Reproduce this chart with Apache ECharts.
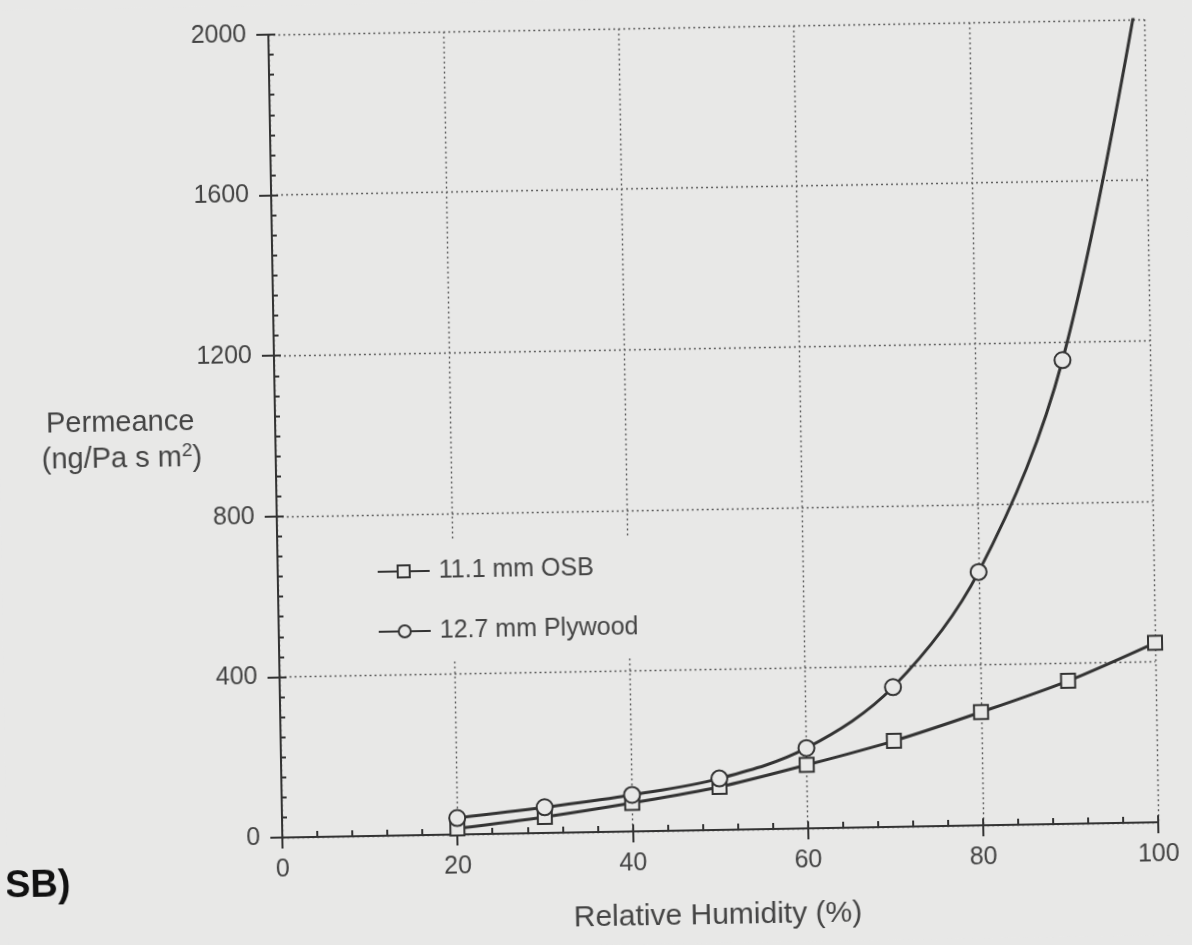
<!DOCTYPE html>
<html>
<head>
<meta charset="utf-8">
<script src="https://cdn.jsdelivr.net/npm/echarts@6/dist/echarts.min.js"></script>
<style>
  html, body { margin: 0; padding: 0; background: #e8e8e7; overflow: hidden; }
  #main { width: 1192px; height: 945px; transform: rotate(-1deg); }
</style>
</head>
<body>
<div id="main"></div>
<script>
// relative humidity (%) of each measurement
var humidity = [20, 30, 40, 50, 60, 70, 80, 90, 100];
// permeance, ng/Pa s m2
var osb = [15, 40, 71, 107, 158, 214, 282, 356, 447];
var plywood = [41, 64, 91, 128, 200, 348, 631, 1155, 2150];
var seriesNames = ['11.1 mm OSB', '12.7 mm Plywood'];
var xTicks = [0, 20, 40, 60, 80, 100];
var yTicks = [0, 400, 800, 1200, 1600, 2000];

var paper = '#e8e8e7';
var ink = '#333333';
var textInk = '#444444';
var dots = { type: [2, 3], color: '#5e5e5e', width: 1.4 };

function pairs(ys) {
    return humidity.map(function (h, i) { return [h, ys[i]]; });
}

var myChart = echarts.init(document.getElementById('main'));

var option = {
    backgroundColor: paper,
    animation: false,
    grid: { left: 276, top: 29, width: 876, height: 803, containLabel: false },
    legend: {
        orient: 'vertical',
        left: 365,
        top: 537,
        padding: [16, 14, 16, 10],
        backgroundColor: paper,
        itemWidth: 52,
        itemHeight: 15,
        itemGap: 30,
        data: seriesNames,
        textStyle: { fontFamily: 'Liberation Sans', fontSize: 25, color: textInk, lineHeight: 30, padding: [0, 0, 0, 4] }
    },
    xAxis: [{
        type: 'value',
        min: xTicks[0], max: xTicks[xTicks.length - 1], interval: 20,
        axisLine: { lineStyle: { color: ink, width: 2 } },
        axisTick: { length: 11, lineStyle: { color: ink, width: 2 } },
        axisLabel: { margin: 20, fontFamily: 'Liberation Sans', fontSize: 25, color: textInk,
            formatter: function (v) { return String(v); } },
        splitLine: { show: true, lineStyle: dots }
    }, {
        type: 'value',
        position: 'bottom',
        min: xTicks[0], max: xTicks[xTicks.length - 1], interval: 20,
        axisLine: { show: false },
        axisTick: { inside: true, length: 7, lineStyle: { color: ink, width: 2 } },
        minorTick: { show: true, splitNumber: 5, length: 6, lineStyle: { color: ink, width: 2 } },
        axisLabel: { show: false },
        splitLine: { show: false }
    }],
    yAxis: [{
        type: 'value',
        min: yTicks[0], max: yTicks[yTicks.length - 1], interval: 400,
        axisLine: { show: true, lineStyle: { color: ink, width: 2 } },
        axisTick: { show: true, length: 12, lineStyle: { color: ink, width: 2 } },
        axisLabel: { margin: 22, fontFamily: 'Liberation Sans', fontSize: 25, color: textInk,
            formatter: function (v) { return String(v); } },
        splitLine: { show: true, lineStyle: dots }
    }, {
        type: 'value',
        position: 'left',
        min: yTicks[0], max: yTicks[yTicks.length - 1], interval: 400,
        axisLine: { show: false },
        axisTick: { show: true, inside: true, length: 7, lineStyle: { color: ink, width: 2 } },
        minorTick: { show: true, splitNumber: 8, length: 5, lineStyle: { color: ink, width: 2 } },
        axisLabel: { show: false },
        splitLine: { show: false }
    }],
    graphic: [
        {
            type: 'text', left: 47, top: 400,
            style: { text: 'Permeance', font: '29px "Liberation Sans"', fill: textInk }
        },
        {
            type: 'text', left: 42, top: 434,
            style: {
                text: '{n|(ng/Pa s m}{s|2}{n|)}',
                rich: {
                    n: { fontFamily: 'Liberation Sans', fontSize: 29, fill: textInk, color: textInk },
                    s: { fontFamily: 'Liberation Sans', fontSize: 19, fill: textInk, color: textInk, verticalAlign: 'top', padding: [0, 0, 14, 0] }
                }
            }
        },
        {
            type: 'text', left: 566, top: 903,
            style: { text: 'Relative Humidity (%)', font: '30px "Liberation Sans"', fill: textInk }
        },
        {
            type: 'text', left: -2, top: 858,
            style: { text: 'SB)', font: 'bold 38px "Liberation Sans"', fill: '#111' }
        }
    ],
    series: [{
        name: seriesNames[0],
        type: 'line',
        smooth: 0.3,
        data: pairs(osb),
        symbol: 'rect',
        symbolSize: 14,
        lineStyle: { color: ink, width: 3 },
        itemStyle: { color: paper, borderColor: ink, borderWidth: 2 },
        z: 3
    }, {
        name: seriesNames[1],
        type: 'line',
        smooth: 0.35,
        data: pairs(plywood),
        symbol: 'circle',
        symbolSize: 16,
        lineStyle: { color: ink, width: 3 },
        itemStyle: { color: paper, borderColor: ink, borderWidth: 2 },
        z: 4
    }]
};

myChart.setOption(option);
</script>
</body>
</html>
